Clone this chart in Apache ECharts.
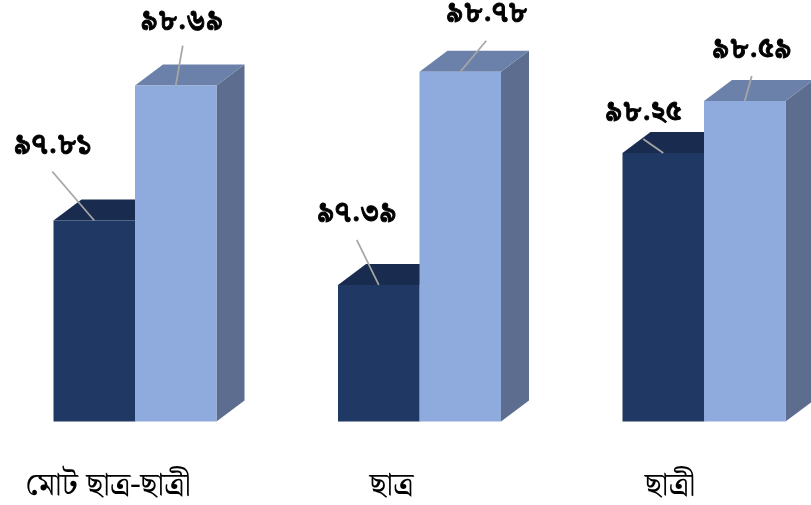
<!DOCTYPE html>
<html>
<head>
<meta charset="utf-8">
<style>html,body{margin:0;padding:0;background:#fff}#c{width:811px;height:505px}</style>
<script src="https://cdn.jsdelivr.net/npm/echarts@6/dist/echarts.min.js"></script>
</head>
<body>
<div id="c"></div>
<script>
const categories = ['মোট ছাত্র-ছাত্রী', 'ছাত্র', 'ছাত্রী'];
const seriesA = [97.81, 97.39, 98.25];
const seriesB = [98.69, 98.78, 98.59];
const labelsA = ['৯৭.৮১', '৯৭.৩৯', '৯৮.২৫'];
const labelsB = ['৯৮.৬৯', '৯৮.৭৮', '৯৮.৫৯'];

const FONT = '"Noto Serif Bengali","Noto Sans Bengali","Lohit Bengali","Noto Sans","DejaVu Sans",sans-serif';
const DEPTH_X = 28, DEPTH_Y = 21, BAR_RATIO = 81.5 / 284.5;
// leader start and label centre, relative to the bar's top centre
const leadA = [[-42, -49, -42, -72.5], [-22, -45, -22, -69], [-20, -14, -20, -38]];
const leadB = [[7, -40, 6, -62], [26, -31, 26, -56], [7, -25, 7, -49]];
const catShift = [54, 56, 68];

function bar3d(values, labels, lead, side, colors) {
  return {
    type: 'custom',
    coordinateSystem: 'cartesian2d',
    clip: false,
    data: values.map((v, i) => [i, v]),
    encode: { x: 0, y: 1 },
    renderItem(params, api) {
      const i = api.value(0);
      const top = api.coord([i, api.value(1)]);
      const base = api.coord([i, 96.5]);
      const w = api.size([1, 0])[0] * BAR_RATIO;
      const x0 = top[0] + (side < 0 ? -w : 0), x1 = x0 + w;
      const y0 = top[1], y1 = base[1];
      const cx = (x0 + x1) / 2;
      const l = lead[i];
      return {
        type: 'group',
        children: [
          { type: 'polygon', shape: { points: [[x1, y1], [x1 + DEPTH_X, y1 - DEPTH_Y], [x1 + DEPTH_X, y0 - DEPTH_Y], [x1, y0]] }, style: { fill: colors.side } },
          { type: 'polygon', shape: { points: [[x0, y0], [x0 + DEPTH_X, y0 - DEPTH_Y], [x1 + DEPTH_X, y0 - DEPTH_Y], [x1, y0]] }, style: { fill: colors.top } },
          { type: 'rect', shape: { x: x0, y: y0, width: w, height: y1 - y0 }, style: { fill: colors.front } },
          { type: 'line', shape: { x1: cx + l[0], y1: y0 + l[1], x2: cx, y2: y0 }, style: { stroke: '#a6a6a6', lineWidth: 1.75 } },
          { type: 'text', style: { x: cx + l[2], y: y0 + l[3], text: labels[i], fill: '#000', stroke: '#000', lineWidth: 0.9, font: 'bold 28px ' + FONT, align: 'center', verticalAlign: 'middle' } }
        ]
      };
    }
  };
}

const chart = echarts.init(document.getElementById('c'), null, { renderer: 'canvas' });
chart.setOption({
  animation: false,
  backgroundColor: '#fff',
  grid: { left: -7.25, width: 853.5, top: 38, height: 383.5, containLabel: false, outerBoundsMode: 'none' },
  xAxis: {
    type: 'category',
    data: categories,
    axisLine: { show: false },
    axisTick: { show: false },
    axisLabel: {
      interval: 0,
      margin: 52,
      hideOverlap: false,
      formatter: (v, i) => `{c${i}|${v}}`,
      rich: {
        c0: { fontSize: 32, fontFamily: FONT, color: '#000', padding: [0, catShift[0], 0, 0] },
        c1: { fontSize: 32, fontFamily: FONT, color: '#000', padding: [0, catShift[1], 0, 0] },
        c2: { fontSize: 32, fontFamily: FONT, color: '#000', padding: [0, catShift[2], 0, 0] }
      }
    }
  },
  yAxis: { type: 'value', min: 96.5, max: 99, show: false, splitLine: { show: false } },
  series: [
    bar3d(seriesA, labelsA, leadA, -1, { front: '#1f3864', top: '#192b4f', side: '#172747' }),
    bar3d(seriesB, labelsB, leadB, 1, { front: '#8faadc', top: '#6c81a9', side: '#5d6d8f' })
  ]
});
</script>
</body>
</html>
